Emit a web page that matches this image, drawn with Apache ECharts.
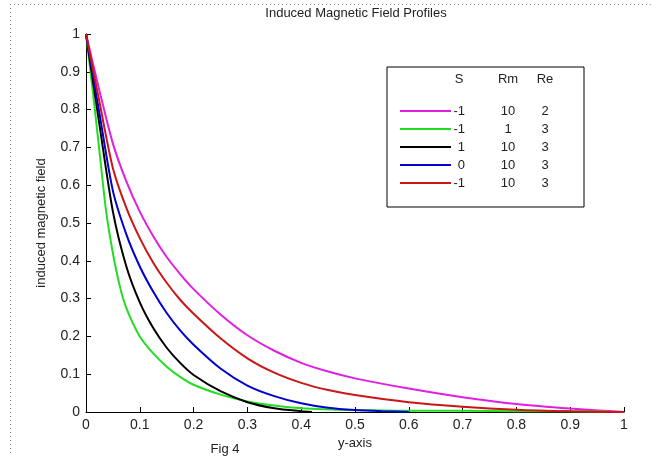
<!DOCTYPE html>
<html><head><meta charset="utf-8">
<script src="https://cdn.jsdelivr.net/npm/echarts@6/dist/echarts.min.js"></script>
<style>html,body{margin:0;padding:0;background:#fff}#c{width:651px;height:456px}</style>
</head><body><div id="c"></div>
<script>
// ---- data ----
var titleText = 'Induced Magnetic Field Profiles';
var xName = 'y-axis';
var yName = 'induced magnetic field';
var figLabel = 'Fig 4';
var legendHeader = ['S', 'Rm', 'Re'];
var sVals  = ['-1', '-1', '1', '0', '-1'];
var rmVals = ['10', '1', '10', '10', '10'];
var reVals = ['2', '3', '3', '3', '3'];
var seriesColors = ['#e020e0', '#22dd22', '#000000', '#0000d0', '#cc1515'];

var xMagenta = [0, 0.025, 0.05, 0.075, 0.1, 0.125, 0.15, 0.175, 0.2, 0.25, 0.3, 0.35, 0.4, 0.45, 0.5, 0.6, 0.7, 0.8, 0.9, 1.0];
var yMagenta = [1, 0.85, 0.71, 0.61, 0.53, 0.465, 0.41, 0.365, 0.325, 0.258, 0.203, 0.162, 0.13, 0.107, 0.089, 0.062, 0.039, 0.021, 0.009, 0];

var xGreen = [0, 0.0125, 0.025, 0.0375, 0.05, 0.0625, 0.075, 0.1, 0.125, 0.15, 0.175, 0.2, 0.25, 0.3, 0.35, 0.4, 0.5, 0.6, 0.7, 0.8, 0.9, 0.97];
var yGreen = [1, 0.85, 0.69, 0.53, 0.42, 0.335, 0.275, 0.2, 0.155, 0.12, 0.093, 0.072, 0.046, 0.028, 0.017, 0.01, 0.005, 0.003, 0.003, 0.002, 0.002, 0.001];

var xBlack = [0, 0.025, 0.05, 0.075, 0.1, 0.125, 0.15, 0.175, 0.2, 0.25, 0.3, 0.35, 0.4, 0.42];
var yBlack = [1, 0.76, 0.53, 0.385, 0.29, 0.222, 0.17, 0.13, 0.098, 0.055, 0.026, 0.01, 0.002, 0];

var xBlue = [0, 0.025, 0.05, 0.075, 0.1, 0.125, 0.15, 0.175, 0.2, 0.25, 0.3, 0.35, 0.4, 0.45, 0.5, 0.55, 0.6];
var yBlue = [1, 0.79, 0.585, 0.47, 0.385, 0.318, 0.262, 0.216, 0.178, 0.115, 0.07, 0.042, 0.023, 0.011, 0.005, 0.002, 0];

var xRed = [0, 0.025, 0.05, 0.075, 0.1, 0.125, 0.15, 0.175, 0.2, 0.25, 0.3, 0.35, 0.4, 0.45, 0.5, 0.6, 0.7, 0.8, 0.9, 1.0];
var yRed = [1, 0.82, 0.645, 0.54, 0.46, 0.395, 0.342, 0.297, 0.26, 0.195, 0.142, 0.104, 0.077, 0.058, 0.045, 0.026, 0.014, 0.006, 0.002, 0];

var xTicks = [0, 1, 0.1];
var yTicks = [0, 1, 0.1];

function pairs(xs, ys) { return xs.map(function (x, i) { return [x, ys[i]]; }); }
var seriesData = [pairs(xMagenta, yMagenta), pairs(xGreen, yGreen), pairs(xBlack, yBlack), pairs(xBlue, yBlue), pairs(xRed, yRed)];

var FONT = '"Liberation Sans", Arial, sans-serif';
var chart = echarts.init(document.getElementById('c'), null, {renderer: 'canvas'});

// legend box built from arrays
var lg = {x: 387, y: 67, w: 197, h: 140};
var legendGraphics = [{
  type: 'rect', shape: {x: lg.x, y: lg.y, width: lg.w, height: lg.h},
  style: {fill: '#fff', stroke: '#000', lineWidth: 1}, z: 100
}];
var colX = [465, 508, 545];
legendHeader.forEach(function (h, i) {
  legendGraphics.push({type: 'text', x: i === 0 ? 459 : colX[i], y: 79, z: 101,
    style: {text: h, font: '13px ' + FONT, fill: '#222', textAlign: 'center', textVerticalAlign: 'middle'}});
});
sVals.forEach(function (s, i) {
  var yy = 111 + i * 18;
  legendGraphics.push({type: 'line', shape: {x1: 400, y1: yy, x2: 451, y2: yy}, z: 101,
    style: {stroke: seriesColors[i], lineWidth: 2}});
  legendGraphics.push({type: 'text', x: colX[0], y: yy, z: 101,
    style: {text: s, font: '13px ' + FONT, fill: '#222', textAlign: 'right', textVerticalAlign: 'middle'}});
  legendGraphics.push({type: 'text', x: colX[1], y: yy, z: 101,
    style: {text: rmVals[i], font: '13px ' + FONT, fill: '#222', textAlign: 'center', textVerticalAlign: 'middle'}});
  legendGraphics.push({type: 'text', x: colX[2], y: yy, z: 101,
    style: {text: reVals[i], font: '13px ' + FONT, fill: '#222', textAlign: 'center', textVerticalAlign: 'middle'}});
});

var option = {
  backgroundColor: '#fff',
  animation: false,
  grid: {left: 86, right: 27, top: 34, bottom: 44, containLabel: false},
  xAxis: {
    type: 'value', min: xTicks[0], max: xTicks[1], interval: xTicks[2],
    name: xName, nameLocation: 'middle', nameGap: 21,
    nameTextStyle: {fontFamily: FONT, fontSize: 13, color: '#222'},
    axisLine: {show: true, lineStyle: {color: '#000', width: 1}},
    axisTick: {show: true, inside: true, length: 5, lineStyle: {color: '#000'}},
    axisLabel: {fontFamily: FONT, fontSize: 14, color: '#222', margin: 6},
    splitLine: {show: false}
  },
  yAxis: {
    type: 'value', min: yTicks[0], max: yTicks[1], interval: yTicks[2],
    name: yName, nameLocation: 'middle', nameGap: 38, nameRotate: 90,
    nameTextStyle: {fontFamily: '"Liberation Sans Narrow", ' + FONT, fontSize: 13, color: '#222'},
    axisLine: {show: true, lineStyle: {color: '#000', width: 1}},
    axisTick: {show: true, inside: true, length: 5, lineStyle: {color: '#000'}},
    axisLabel: {fontFamily: FONT, fontSize: 14, color: '#222', margin: 6},
    splitLine: {show: false}
  },
  series: seriesData.map(function (d, i) {
    return {type: 'line', data: d, smooth: 0.25, symbol: 'none',
      lineStyle: {color: seriesColors[i], width: 2}, itemStyle: {color: seriesColors[i]}, z: 2 + i};
  }),
  graphic: [
    {type: 'line', shape: {x1: 10, y1: 4.5, x2: 651, y2: 4.5}, style: {stroke: '#888', lineWidth: 1, lineDash: [1, 3]}},
    {type: 'line', shape: {x1: 10.5, y1: 4, x2: 10.5, y2: 456}, style: {stroke: '#888', lineWidth: 1, lineDash: [1, 3]}},
    {type: 'text', x: 356, y: 13, style: {text: titleText, font: '13px ' + FONT, fill: '#222', textAlign: 'center', textVerticalAlign: 'middle'}},
    {type: 'text', x: 225, y: 449, style: {text: figLabel, font: '13px ' + FONT, fill: '#222', textAlign: 'center', textVerticalAlign: 'middle'}}
  ].concat(legendGraphics)
};
chart.setOption(option);
</script>
</body></html>
